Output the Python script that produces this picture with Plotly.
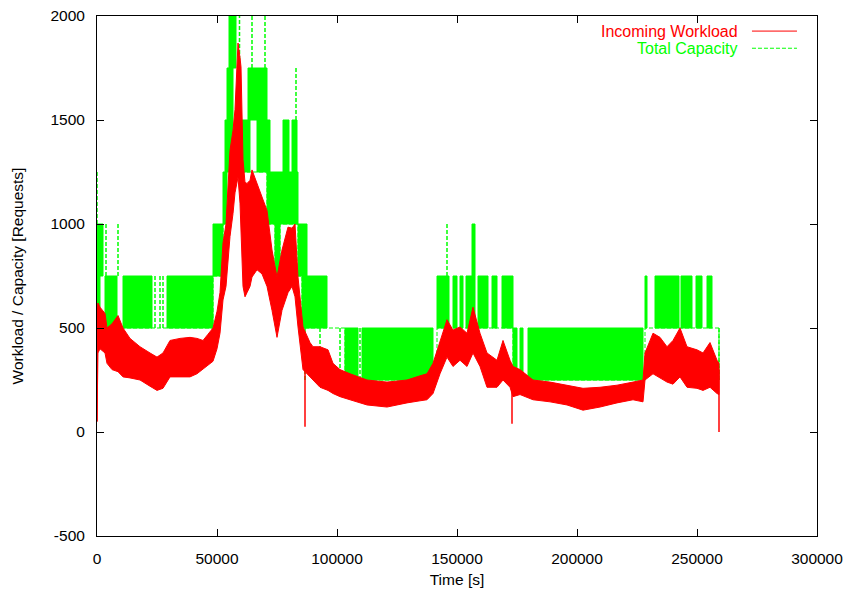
import plotly.graph_objects as go

# ---------------- data ----------------
# Incoming workload: band envelope (time [s], upper, lower)
wl_t = [0, 400, 1250, 3333, 4167, 6250, 8750, 10833, 13750, 17917, 22083, 25000,
        27500, 30417, 34583, 38750, 41667, 44167, 46250, 48333, 50000, 51250,
        52500, 53750, 55417, 56667, 57500, 58750, 59583, 60000, 60833, 61667,
        62500, 63750, 64583, 66667, 68750, 70833, 72917, 75000, 77083, 79583,
        81250, 82500, 83750, 85833, 88750, 90000, 92917, 96250, 98333, 101250,
        105417, 112500, 120833, 129167, 134583, 137500, 140000, 142917, 145833,
        148333, 151250, 154167, 156667, 159583, 162500, 166667, 169167, 172083,
        173333, 176250, 181667, 188750, 195833, 202500, 209583, 216667, 223333,
        227500, 228333, 231667, 234583, 237500, 240000, 242917, 245833, 250000,
        252500, 255417, 258333, 259167]
wl_hi = [600, 620, 600, 570, 500, 520, 560, 500, 450, 410, 380, 360,
         380, 440, 450, 455, 450, 440, 470, 500, 580, 670,
         910, 1000, 1355, 1450, 1550, 1870, 1800, 1755, 1310, 1200,
         1195, 1210, 1260, 1195, 1130, 1065, 875, 745, 875, 985,
         980, 1000, 745, 505, 430, 410, 410, 395, 330, 300,
         280, 250, 240, 250, 270, 280, 330, 440, 540,
         490, 505, 475, 600, 475, 380, 345, 440, 345,
         315, 300, 250, 240, 225, 210, 215, 225, 240,
         250, 380, 475, 455, 410, 440, 500, 410, 395,
         380, 430, 345, 330]
wl_lo = [50, 380, 400, 380, 330, 300, 290, 265, 260, 250, 220, 200,
         210, 265, 265, 265, 280, 300, 320, 340, 400, 475,
         635, 700, 940, 1050, 1150, 1225, 1100, 985, 700, 650,
         670, 700, 745, 780, 760, 700, 585, 455, 585, 670,
         700, 650, 505, 300, 265, 250, 215, 200, 185, 170,
         155, 130, 120, 140, 150, 155, 185, 280, 360,
         315, 345, 315, 380, 315, 215, 215, 250, 215,
         170, 180, 155, 145, 130, 105, 120, 140, 155,
         145, 250, 280, 260, 240, 230, 265, 215, 210,
         200, 215, 185, 180]
# short downward spikes of the workload: time, lowest value, band value
sp_t = [0, 86667, 172917, 259167]
sp_lo = [50, 25, 40, 0]
sp_hi = [600, 300, 200, 300]

# Total capacity: dense switching blocks (start, end, low level, high level)
cb_t0 = [0, 0, 3333, 10833, 29167, 48333, 52500, 53333, 54167, 55000, 59583,
         62917, 66667, 70833, 74167, 75000, 77500, 81250, 83750, 85417,
         103333, 110417, 141667, 148333, 151250, 153750, 156250, 158750,
         164583, 168750, 173333, 176250, 179583, 228333, 232500, 243333,
         249583, 254167]
cb_t1 = [1250, 2500, 8333, 22917, 48333, 52500, 54167, 56667, 56667, 57917,
         63750, 70833, 72083, 75000, 76250, 83750, 80000, 83333, 87500, 95833,
         108750, 140000, 146667, 150000, 152500, 157500, 157500, 162917,
         166667, 173333, 175000, 177500, 227500, 229167, 242500, 247917,
         252083, 256250]
cb_lo = [500, 750, 500, 500, 500, 750, 1000, 1250, 1500, 1750, 1250,
         1500, 1250, 1000, 750, 1000, 1250, 1250, 750, 500,
         250, 250, 500, 500, 500, 500, 750, 500,
         500, 500, 250, 250, 250, 500, 500, 500,
         500, 500]
cb_hi = [750, 1000, 750, 750, 750, 1000, 1250, 1500, 1750, 2000, 1500,
         1750, 1500, 1250, 1000, 1250, 1500, 1500, 1000, 750,
         500, 500, 750, 750, 750, 750, 1000, 750,
         750, 750, 500, 500, 500, 750, 750, 750,
         750, 750]
# single capacity switches (time, low, high)
cs_t = [0, 2083, 3750, 8750, 24167, 26250, 27500, 59375, 64583, 70000, 82917,
        86667, 92917, 101250, 109583, 145833, 259167]
cs_lo = [250, 750, 750, 750, 500, 500, 500, 1500, 1750, 1750, 1500,
         250, 250, 250, 250, 750, 250]
cs_hi = [1250, 1000, 1000, 1000, 750, 750, 750, 2000, 2000, 2000, 1750,
         500, 500, 500, 500, 1000, 500]
# base capacity level (step changes)
cap_t = [0, 48333, 52500, 53333, 59583, 70833, 74167, 76250, 83750, 85417,
         103333, 141667, 173333, 228333, 259167]
cap_v = [500, 750, 1000, 1250, 1250, 1000, 750, 1000, 750, 500,
         250, 500, 250, 500, 250]

x_ticks = [0, 50000, 100000, 150000, 200000, 250000, 300000]
y_ticks = [-500, 0, 500, 1000, 1500, 2000]

RED = "#ff0000"
GREEN = "#00ff00"
FONT = "Liberation Sans, Arial, sans-serif"

fig = go.Figure()

# capacity blocks
bx, by = [], []
for a, b, lo, hi in zip(cb_t0, cb_t1, cb_lo, cb_hi):
    bx += [a, a, b, b, a, None]
    by += [lo, hi, hi, lo, lo, None]
fig.add_trace(go.Scatter(x=bx, y=by, mode="lines", fill="toself",
                         fillcolor=GREEN, line=dict(color=GREEN, width=1),
                         hoverinfo="skip", showlegend=False))
# single capacity switches
sx, sy = [], []
for t, lo, hi in zip(cs_t, cs_lo, cs_hi):
    sx += [t, t, None]
    sy += [lo, hi, None]
fig.add_trace(go.Scatter(x=sx, y=sy, mode="lines",
                         line=dict(color=GREEN, width=1.5, dash="4px,2px"),
                         hoverinfo="skip", showlegend=False))
# base capacity step line
fig.add_trace(go.Scatter(x=cap_t, y=cap_v, mode="lines", line_shape="hv",
                         line=dict(color=GREEN, width=1, dash="4px,2px"),
                         name="Total Capacity", showlegend=False))

# workload band
fig.add_trace(go.Scatter(x=wl_t + wl_t[::-1], y=wl_hi + wl_lo[::-1],
                         mode="lines", fill="toself", fillcolor=RED,
                         line=dict(color=RED, width=1),
                         name="Incoming Workload", showlegend=False))
px_, py_ = [], []
for t, lo, hi in zip(sp_t, sp_lo, sp_hi):
    px_ += [t, t, None]
    py_ += [lo, hi, None]
fig.add_trace(go.Scatter(x=px_, y=py_, mode="lines",
                         line=dict(color=RED, width=1.5),
                         hoverinfo="skip", showlegend=False))

axis_common = dict(showgrid=False, zeroline=False, showline=True,
                   linecolor="black", linewidth=1, mirror="ticks",
                   ticks="inside", ticklen=7, tickwidth=1, tickcolor="black",
                   tickfont=dict(family=FONT, size=15.5, color="black"))
fig.update_xaxes(range=[0, 300000], tickvals=x_ticks,
                 ticktext=[str(v) for v in x_ticks], ticklabelstandoff=8,
                 title=dict(text="Time [s]", standoff=8,
                            font=dict(family=FONT, size=15.5, color="black")),
                 **axis_common)
fig.update_yaxes(range=[-500, 2000], tickvals=y_ticks,
                 ticktext=[str(v) for v in y_ticks], ticklabelstandoff=8,
                 title=dict(text="Workload / Capacity [Requests]", standoff=22,
                            font=dict(family=FONT, size=15.5, color="black")),
                 **axis_common)

# gnuplot-style key: text right-aligned, sample to the right
key = [("Incoming Workload", RED, "solid", 0.971),
       ("Total Capacity", GREEN, "4px,2px", 0.938)]
for text, col, dash, yk in key:
    fig.add_annotation(x=0.893, y=yk, xref="paper", yref="paper",
                       text=text, showarrow=False, xanchor="right",
                       yanchor="middle",
                       font=dict(family=FONT, size=16, color=col))
    fig.add_shape(type="line", xref="paper", yref="paper",
                  x0=0.9097, x1=0.9722, y0=yk, y1=yk,
                  line=dict(color=col, width=1, dash=dash))

fig.update_layout(width=851, height=590,
                  margin=dict(l=97, r=34, t=16, b=54, autoexpand=False),
                  paper_bgcolor="white", plot_bgcolor="white",
                  font=dict(family=FONT, size=15.5, color="black"))

fig.write_html("out.html")
